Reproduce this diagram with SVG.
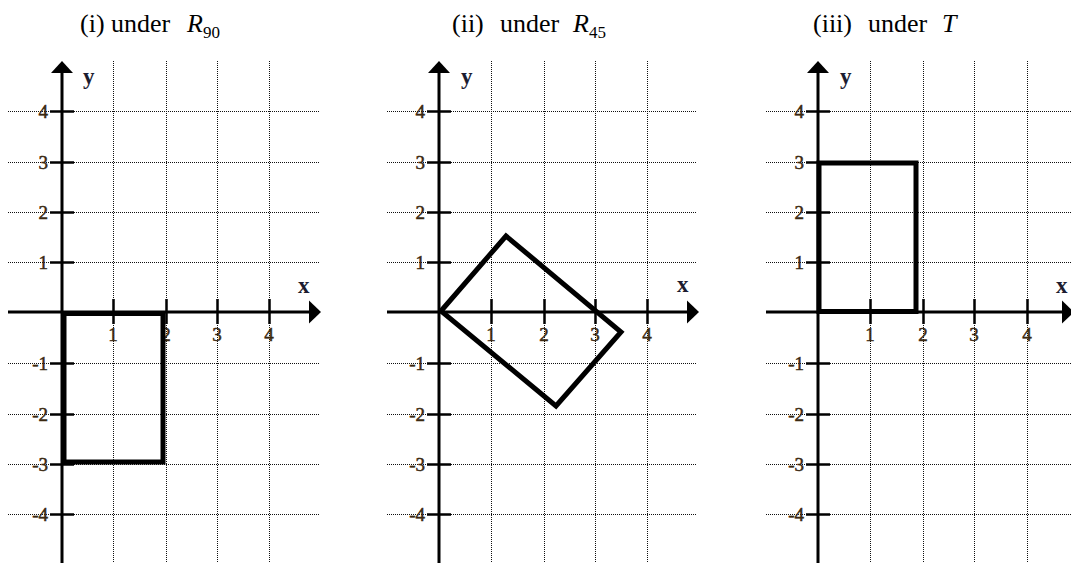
<svg xmlns="http://www.w3.org/2000/svg" width="1071" height="563" viewBox="0 0 1071 563">
<defs>
<style>
.grid{stroke:#111;stroke-width:1;stroke-dasharray:1 1;fill:none}
.axis{stroke:#000;stroke-width:3;fill:none}
.tick{stroke:#000;stroke-width:2.5;fill:none}
.shape{stroke:#000;stroke-width:5;fill:none;stroke-linejoin:miter}
.head{fill:#000;stroke:none}
.title{font-family:"Liberation Serif","Times New Roman",serif;font-size:26px;fill:#000}
.it{font-style:italic}
.sub{font-size:17px}
.num{font-family:"Liberation Serif","Times New Roman",serif;font-size:19px;fill:#3a2810;stroke:#3a2810;stroke-width:0.5}
.ylab{text-anchor:end}
.xlab{text-anchor:middle}
.axlab{font-family:"Liberation Serif","Times New Roman",serif;font-size:23px;font-weight:bold;fill:#1c1c30}
</style>
</defs>

<g id="titles">
<text class="title" y="32"><tspan x="80">(i) under</tspan><tspan x="187" class="it">R</tspan><tspan x="203" y="38" class="sub">90</tspan></text>
<text class="title" y="32"><tspan x="452">(ii)</tspan><tspan x="500">under</tspan><tspan x="573" class="it">R</tspan><tspan x="589" y="38" class="sub">45</tspan></text>
<text class="title" y="32"><tspan x="813">(iii)</tspan><tspan x="868">under</tspan><tspan x="942" class="it">T</tspan></text>
</g>

<g id="panel1">
<g class="grid">
<path d="M113.5 61V563M166.5 61V563M217.5 61V563M269.5 61V563"/>
<path d="M8 111.5H320M8 162.5H320M8 212.5H320M8 262.5H320M8 363.5H320M8 414.5H320M8 464.5H320M8 514.5H320"/>
</g>
<g class="tick">
<path d="M50 111.5H74M50 162.5H74M50 212.5H74M50 262.5H74M50 363.5H74M50 414.5H74M50 464.5H74M50 514.5H74"/>
<path d="M113.5 299V324M166.5 299V324M217.5 299V324M269.5 299V324"/>
</g>
<path class="axis" d="M62 563V70M8 312H311"/>
<path class="head" d="M62 61L73 73H51Z"/>
<path class="head" d="M321 312L309 300.5V323.5Z"/>
<g class="num ylab">
<text x="48" y="118">4</text><text x="48" y="169">3</text><text x="48" y="219">2</text><text x="48" y="269">1</text>
<text x="48" y="370">-1</text><text x="48" y="421">-2</text><text x="48" y="471">-3</text><text x="48" y="521">-4</text>
</g>
<g class="num xlab">
<text x="113" y="341">1</text><text x="166" y="341">2</text><text x="217" y="341">3</text><text x="269" y="341">4</text>
</g>
<text class="axlab" x="83" y="84">y</text>
<text class="axlab" x="298" y="293">x</text>
<rect id="shape1" class="shape" x="64" y="313.5" width="99" height="148.5"/>
</g>

<g id="panel2">
<g class="grid">
<path d="M491.5 61V563M544.5 61V563M595.5 61V563M647.5 61V563"/>
<path d="M387 111.5H697M387 162.5H697M387 212.5H697M387 262.5H697M387 363.5H697M387 414.5H697M387 464.5H697M387 514.5H697"/>
</g>
<g class="tick">
<path d="M427 111.5H451M427 162.5H451M427 212.5H451M427 262.5H451M427 363.5H451M427 414.5H451M427 464.5H451M427 514.5H451"/>
<path d="M491.5 299V324M544.5 299V324M595.5 299V324M647.5 299V324"/>
</g>
<path class="axis" d="M439 563V70M387 312H689"/>
<path class="head" d="M439 61L450 73H428Z"/>
<path class="head" d="M699 312L687 300.5V323.5Z"/>
<g class="num ylab">
<text x="425" y="118">4</text><text x="425" y="169">3</text><text x="425" y="219">2</text><text x="425" y="269">1</text>
<text x="425" y="370">-1</text><text x="425" y="421">-2</text><text x="425" y="471">-3</text><text x="425" y="521">-4</text>
</g>
<g class="num xlab">
<text x="491" y="341">1</text><text x="544" y="341">2</text><text x="595" y="341">3</text><text x="647" y="341">4</text>
</g>
<text class="axlab" x="461" y="84">y</text>
<text class="axlab" x="677" y="292">x</text>
<polygon id="shape2" class="shape" points="441,311 506,236 621,332 556,406"/>
</g>

<g id="panel3">
<g class="grid">
<path d="M870.5 61V563M923.5 61V563M974.5 61V563M1027.5 61V563"/>
<path d="M766 111.5H1071M766 162.5H1071M766 212.5H1071M766 262.5H1071M766 363.5H1071M766 414.5H1071M766 464.5H1071M766 514.5H1071"/>
</g>
<g class="tick">
<path d="M806 111.5H830M806 162.5H830M806 212.5H830M806 262.5H830M806 363.5H830M806 414.5H830M806 464.5H830M806 514.5H830"/>
<path d="M870.5 299V324M923.5 299V324M974.5 299V324M1027.5 299V324"/>
</g>
<path class="axis" d="M818 563V70M766 312H1064"/>
<path class="head" d="M818 61L829 73H807Z"/>
<path class="head" d="M1074 312L1062 300.5V323.5Z"/>
<g class="num ylab">
<text x="804" y="118">4</text><text x="804" y="169">3</text><text x="804" y="219">2</text><text x="804" y="269">1</text>
<text x="804" y="370">-1</text><text x="804" y="421">-2</text><text x="804" y="471">-3</text><text x="804" y="521">-4</text>
</g>
<g class="num xlab">
<text x="870" y="341">1</text><text x="923" y="341">2</text><text x="974" y="341">3</text><text x="1027" y="341">4</text>
</g>
<text class="axlab" x="840" y="84">y</text>
<text class="axlab" x="1056" y="293">x</text>
<rect id="shape3" class="shape" x="819" y="163" width="97" height="148.5"/>
</g>
</svg>
